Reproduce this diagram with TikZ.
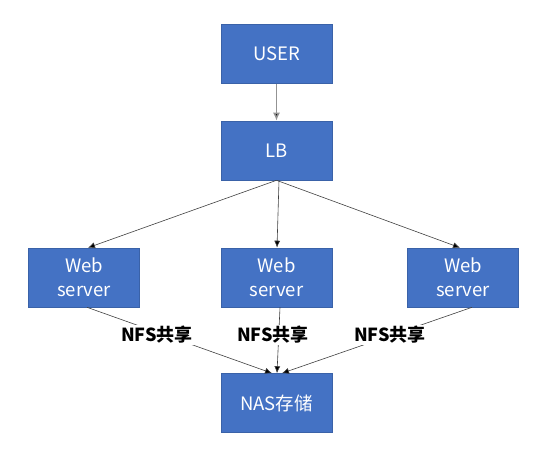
\documentclass[tikz,border=0pt]{standalone}
\usepackage{fontspec}
\setmainfont{Noto Sans CJK SC}
\usetikzlibrary{arrows.meta}
\definecolor{boxblue}{HTML}{4472C4}
\definecolor{boxedge}{HTML}{3A62A8}
\definecolor{lineg}{HTML}{404040}
\begin{document}
\begin{tikzpicture}[x=1pt,y=-1pt,
  box/.style={rectangle,draw=boxedge,line width=0.6pt,fill=boxblue,text=white,
    minimum width=111pt,minimum height=59pt,inner sep=2pt,align=center,
    font=\fontsize{18.5}{23.5}\selectfont},
  conn/.style={draw=lineg,line width=0.6pt,-{Latex[length=7pt,width=6pt,fill=black]}},
  lbl/.style={fill=white,inner sep=1pt,font=\fontsize{18}{21}\selectfont\bfseries}]
\useasboundingbox (0,0) rectangle (554,454);
\node[box] (user) at (276.5,54) {USER};
\node[box] (lb) at (276.5,150.5) {LB};
\node[box] (wl) at (84,277.5) {Web\\server};
\node[box] (wm) at (276.5,277.5) {Web\\server};
\node[box] (wr) at (463,277.5) {Web\\server};
\node[box] (nas) at (276.5,403) {NAS存储};
\draw[conn,draw=gray!85,line width=1.4pt,-{Latex[length=8pt,width=7pt,fill=black]}] (user) -- (lb);
\draw[conn] (lb.south) -- ([xshift=4pt]wl.north);
\draw[conn] ([xshift=2.5pt]lb.south) -- ([xshift=0.5pt]wm.north);
\draw[conn] (lb.south) -- ([xshift=-3pt]wr.north);
\draw[conn] ([xshift=3pt]wl.south) -- ([xshift=-4.5pt]nas.north);
\draw[conn] ([xshift=3.5pt]wm.south) -- ([xshift=0.5pt]nas.north);
\draw[conn] ([xshift=9pt]wr.south) -- ([xshift=5.5pt]nas.north);
\node[lbl] (l1) at (157,335) {NFS共享};
\node[lbl] (l2) at (273,335) {NFS共享};
\node[lbl] (l3) at (390,335) {NFS共享};
\end{tikzpicture}
\end{document}
